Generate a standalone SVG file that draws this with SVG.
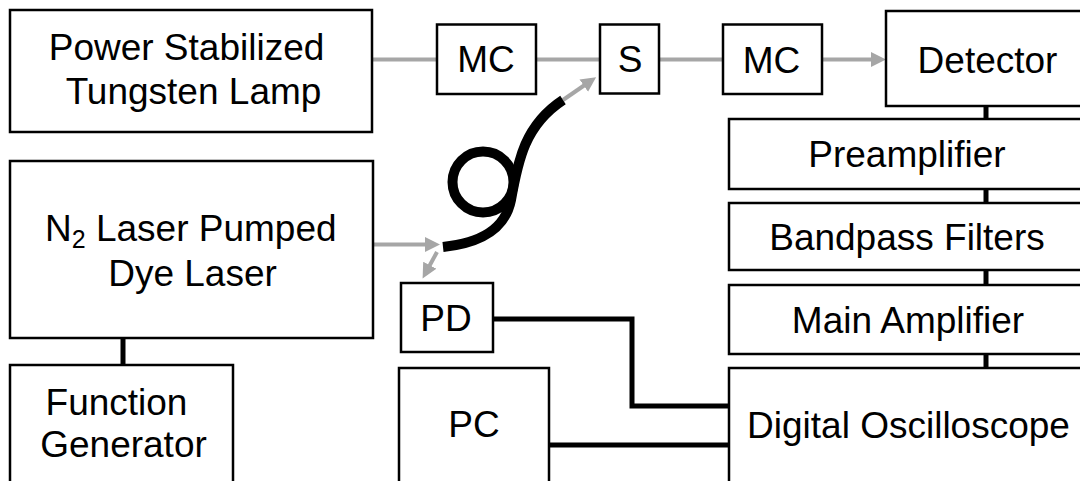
<svg xmlns="http://www.w3.org/2000/svg" width="1080" height="481" viewBox="0 0 1080 481">
<style>
.box{fill:#fff;stroke:#000;stroke-width:2.5}
.t{font-family:"Liberation Sans",Arial,sans-serif;font-size:37px;fill:#000;text-anchor:middle}
.gray{fill:none;stroke:#a6a6a6;stroke-width:4}
.blk{fill:none;stroke:#000;stroke-width:5}
.fiber{fill:none;stroke:#000;stroke-width:10}
</style>
<defs>
<marker id="ah" markerUnits="userSpaceOnUse" markerWidth="16" markerHeight="16" refX="10" refY="7.5" orient="auto">
<path d="M0,0 L15,7.5 L0,15 z" fill="#a6a6a6"/>
</marker>
</defs>
<rect width="1080" height="481" fill="#fff"/>
<g id="connectors">
<line class="gray" x1="372" y1="59.5" x2="437" y2="59.5"/>
<line class="gray" x1="536" y1="59.5" x2="600" y2="59.5"/>
<line class="gray" x1="659" y1="59.5" x2="723" y2="59.5"/>
<line class="gray" x1="822" y1="59.5" x2="881" y2="59.5" marker-end="url(#ah)"/>
<line class="gray" x1="373" y1="244.5" x2="435" y2="244.5" marker-end="url(#ah)"/>
<line class="gray" x1="437" y1="252" x2="425" y2="274" marker-end="url(#ah)"/>
<line class="gray" x1="563" y1="100" x2="592" y2="80" marker-end="url(#ah)"/>
<path class="fiber" d="M443,247 C480,243 505,230 511,200 C518,160 525,125 563,100"/>
<circle class="fiber" cx="483" cy="182" r="30.5"/>
<line class="blk" x1="123" y1="338" x2="123" y2="365"/>
<line class="blk" x1="986" y1="106" x2="986" y2="119"/>
<line class="blk" x1="986" y1="189" x2="986" y2="203"/>
<line class="blk" x1="986" y1="270" x2="986" y2="285"/>
<line class="blk" x1="986" y1="354" x2="986" y2="368"/>
<path class="blk" d="M493,319 H632 V406 H729"/>
<line class="blk" x1="549" y1="445" x2="729" y2="445"/>
</g>
<g id="lamp"><rect class="box" x="10" y="10" width="362" height="122"/>
<text class="t" x="186.5" y="60">Power Stabilized</text>
<text class="t" x="193.5" y="104">Tungsten Lamp</text></g>
<g id="mc1"><rect class="box" x="437" y="24.5" width="99" height="69.5"/><text class="t" x="486" y="72">MC</text></g>
<g id="s"><rect class="box" x="600" y="24.5" width="59" height="69"/><text class="t" x="630" y="72">S</text></g>
<g id="mc2"><rect class="box" x="723" y="24.5" width="99" height="69.5"/><text class="t" x="771.5" y="72.5">MC</text></g>
<g id="detector"><rect class="box" x="886" y="11" width="200" height="95"/><text class="t" x="987.5" y="73">Detector</text></g>
<g id="preamp"><rect class="box" x="729" y="119" width="360" height="70"/><text class="t" x="907" y="167">Preamplifier</text></g>
<g id="bandpass"><rect class="box" x="729" y="203" width="360" height="67"/><text class="t" x="907" y="250">Bandpass Filters</text></g>
<g id="mainamp"><rect class="box" x="729" y="285" width="360" height="69"/><text class="t" x="908" y="333">Main Amplifier</text></g>
<g id="oscilloscope"><rect class="box" x="729" y="368" width="360" height="120"/><text class="t" x="908.5" y="438">Digital Oscilloscope</text></g>
<g id="laser"><rect class="box" x="10" y="161" width="363" height="177"/>
<text class="t" x="45" y="241" style="text-anchor:start">N<tspan font-size="25" dy="7">2</tspan><tspan dy="-7"> Laser Pumped</tspan></text>
<text class="t" x="192.5" y="286">Dye Laser</text></g>
<g id="funcgen"><rect class="box" x="10" y="365" width="223" height="125"/>
<text class="t" x="116.5" y="415">Function</text>
<text class="t" x="123.5" y="457">Generator</text></g>
<g id="pd"><rect class="box" x="401" y="283" width="92" height="69"/><text class="t" x="446" y="331">PD</text></g>
<g id="pc"><rect class="box" x="399" y="368" width="150" height="120"/><text class="t" x="474" y="437">PC</text></g>
</svg>
